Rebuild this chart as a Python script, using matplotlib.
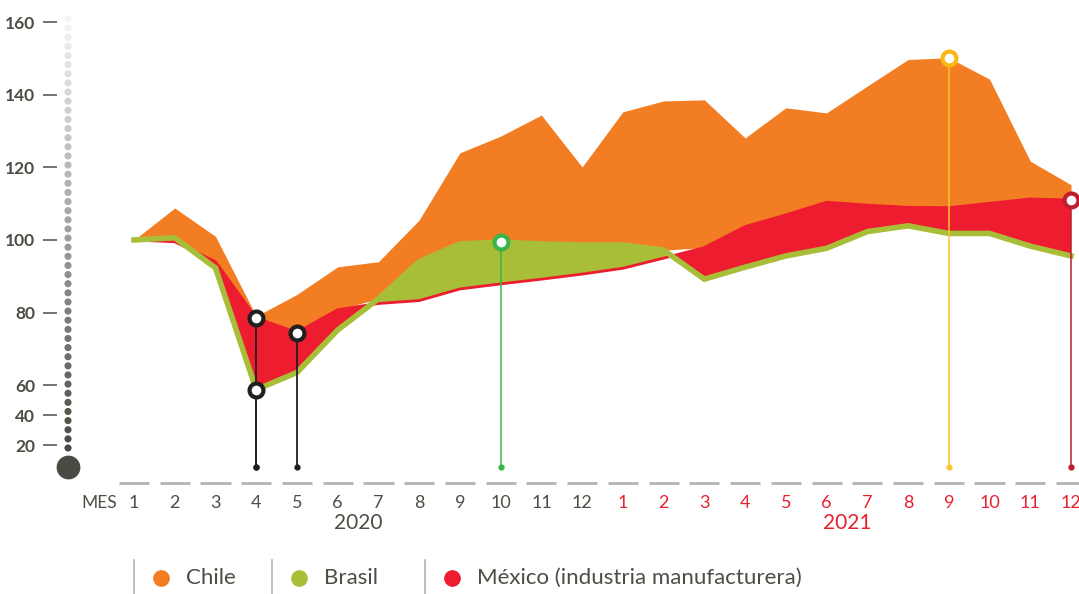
import matplotlib
matplotlib.use("Agg")
import matplotlib.pyplot as plt
import matplotlib.transforms as mtransforms
import numpy as np

plt.rcParams['font.family'] = ['Lato', 'DejaVu Sans']

# indices (base 100), ene-2020 .. dic-2021
months = [str(m) for m in range(1, 13)] * 2
years = ['2020', '2021']
chile = [100, 108.8, 101, 79, 85, 92.6, 94, 105.5, 124, 128.6, 134.4, 120.1,
         135.3, 138.3, 138.6, 128.1, 136.4, 135, 142.4, 149.7, 150.2, 144.3, 121.7, 115.2]
mexico = [100, 99.5, 94, 78.5, 74.5, 80.8, 82.5, 83.3, 86.5, 87.9, 89.2, 90.6,
          92.2, 95, 97.9, 103.7, 106.9, 110.4, 109.6, 109, 108.9, 110.1, 111.3, 111]
brasil = [100, 100.6, 92.3, 57, 63.5, 75.2, 83.8, 94, 98.9, 99.4, 98.9, 98.6,
          98.6, 97.2, 89.2, 92.5, 95.6, 97.7, 102.3, 103.9, 101.8, 101.8, 98.3, 95.6]
yticks = [20, 40, 60, 80, 100, 120, 140, 160]
# highlighted points: (month index, series)
highlights = [(3, 'mexico'), (3, 'brasil'), (4, 'mexico'), (9, 'brasil'), (20, 'chile'), (23, 'mexico')]

ORANGE = '#f37d22'
GREEN = '#a9be38'
RED = '#ed1c2e'
DARK = '#4d4d45'
RED_TXT = '#e8202f'
K = 1.5 / 3.63  # below 60 the axis is compressed


def fwd(v):
    v = np.asarray(v, dtype=float)
    return np.where(v >= 60, v, 60 - (60 - v) * K)


def inv(t):
    t = np.asarray(t, dtype=float)
    return np.where(t >= 60, t, 60 - (60 - t) / K)


x = np.arange(len(chile))
ch = np.array(chile)
mx = np.array(mexico)
br = np.array(brasil)
series = {'chile': ch, 'mexico': mx, 'brasil': br}

fig = plt.figure(figsize=(10.79, 5.94), dpi=100)
ax = fig.add_axes([0, 0, 1, 1])
ax.set_yscale('function', functions=(fwd, inv))
ax.set_xlim(-3.289, 23.196)
ax.set_ylim(-79.2, 166.1)
for s in ax.spines.values():
    s.set_visible(False)
ax.set_xticks([])

# y axis ticks as short dashes right of the labels
ax.spines['left'].set_position(('data', -1.89))
ax.set_yticks(yticks)
ax.set_yticks([], minor=True)
ax.set_yticklabels([str(t) for t in yticks], fontweight='bold')
ax.tick_params(axis='y', direction='out', length=10, width=1.1, color=DARK,
               pad=5.5, labelsize=12.5, labelcolor=DARK)

# areas
upper = np.maximum(mx, br)
ax.fill_between(x, ch, upper, color=ORANGE, lw=0, zorder=2)
ax.fill_between(x, br, mx, where=br >= mx, interpolate=True, color=GREEN, lw=0, zorder=2)
ax.fill_between(x, mx, br, where=mx >= br, interpolate=True, color=RED, lw=0, zorder=2)
ax.plot(x, mx, color=RED, lw=2, zorder=3, solid_joinstyle='miter')
ax.plot(x, br, color=GREEN, lw=4, zorder=3, solid_joinstyle='miter')

# vertical dotted axis
blend = mtransforms.blended_transform_factory(ax.transData, ax.transAxes)
dot_y = np.linspace(1 - 19 / 594, 1 - 448 / 594, 48)
cmap = matplotlib.colors.LinearSegmentedColormap.from_list('g', ['#f4f4f4', '#4a4a42'])
dot_c = cmap(np.linspace(0, 1, len(dot_y)))
ax.scatter(np.full(len(dot_y), -1.62), dot_y, s=17, c=dot_c, transform=blend, zorder=4, clip_on=False)
ax.scatter([-1.62], [1 - 467 / 594], s=260, color='#4a4a42', transform=blend, zorder=4, clip_on=False)

# stems and markers
stem_bottom = 1 - 467 / 594
for i, name in highlights:
    v = series[name][i]
    if i < 5:
        lc, ec, lw = '#231f20', '#231f20', 1.3
    elif name == 'brasil':
        lc, ec, lw = '#3ab54a', '#3ab54a', 1.1
    elif name == 'chile':
        lc, ec, lw = '#fcc331', '#fbb716', 1.1
    else:
        lc, ec, lw = '#be1e2d', '#be1e2d', 1.1
    yv = ax.transData.transform((i, v))
    y_ax = ax.transAxes.inverted().transform(yv)[1]
    ax.plot([i, i], [stem_bottom, y_ax], color=lc, lw=lw, transform=blend, zorder=5)
    ax.plot([i], [stem_bottom], 'o', ms=3.5, color=lc, transform=blend, zorder=5)
    ax.plot([i], [v], 'o', ms=10, mfc='white', mec=ec, mew=3, zorder=6)

# x axis: dashes and month labels
for i, m in enumerate(months):
    ax.plot([i - 0.37, i + 0.37], [1 - 483 / 594] * 2, color='#b3b3b3', lw=2,
            transform=blend, solid_capstyle='butt')
    ax.text(i, 1 - 503 / 594, m, transform=blend, ha='center', va='center',
            fontsize=13, color=DARK if i < 12 else RED_TXT)
ax.text(-0.86, 1 - 503 / 594, 'MES', transform=blend, ha='center', va='center',
        fontsize=12.5, color=DARK)
ax.text(5.5, 1 - 523 / 594, years[0], transform=blend, ha='center', va='center',
        fontsize=15, color=DARK)
ax.text(17.5, 1 - 523 / 594, years[1], transform=blend, ha='center', va='center',
        fontsize=15, color=RED_TXT)

# legend
leg = [('Chile', ORANGE, 134), ('Brasil', GREEN, 272), ('México (industria manufacturera)', RED, 425)]
for label, col, px in leg:
    fx = px / 1079
    fig.add_artist(plt.Line2D([fx, fx], [0, 34 / 594], color='#b3b3b3', lw=1.2))
    fig.add_artist(plt.Line2D([(px + 27) / 1079], [1 - 578 / 594], marker='o', ms=11,
                              color=col, lw=0))
    fig.text((px + 52) / 1079, 1 - 578 / 594, label, ha='left', va='center',
             fontsize=16, color=DARK)

fig.savefig('out.png', dpi=100)
